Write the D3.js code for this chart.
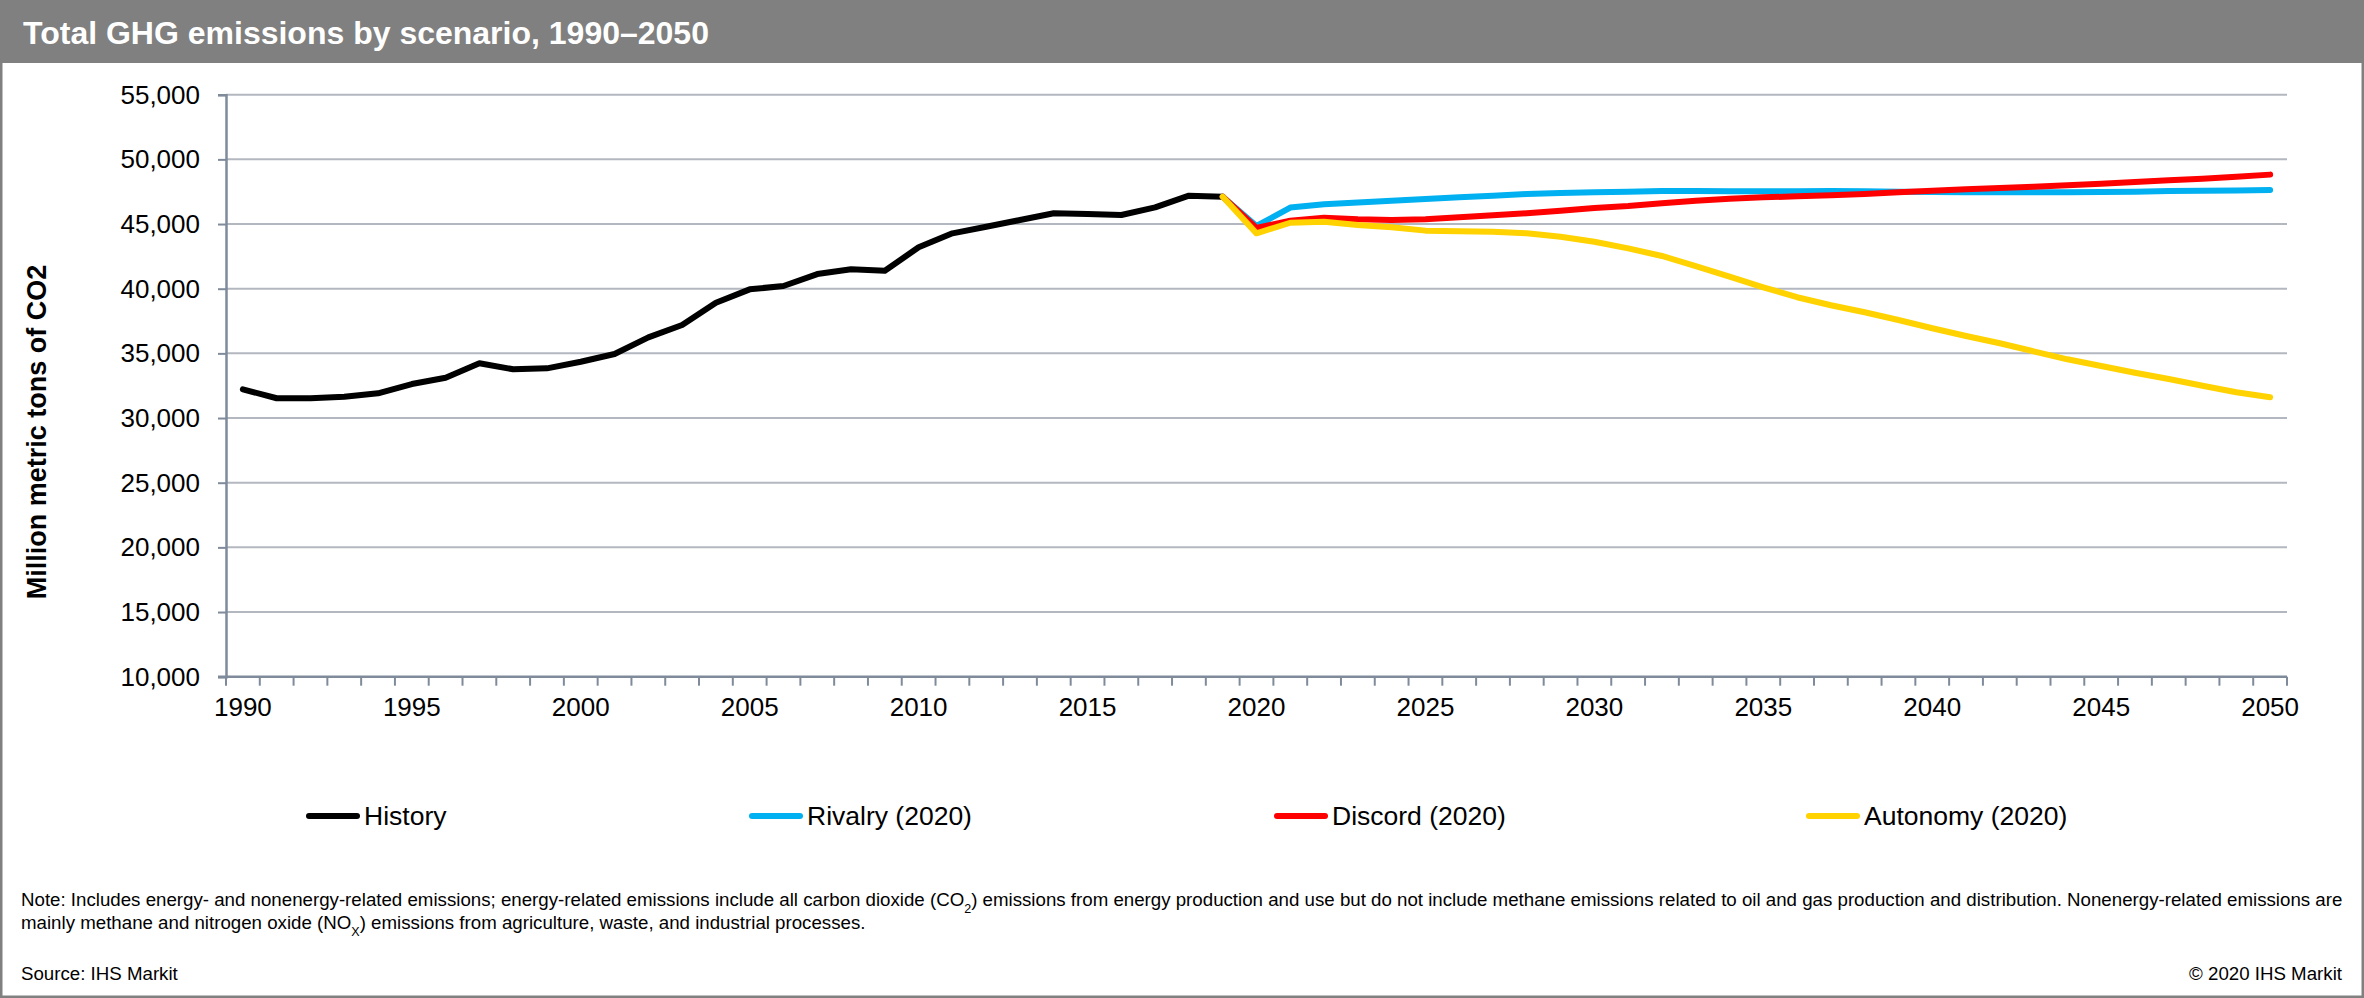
<!DOCTYPE html>
<html>
<head>
<meta charset="utf-8">
<script src="https://cdnjs.cloudflare.com/ajax/libs/d3/7.8.5/d3.min.js"></script>
<style>
  html, body { margin: 0; padding: 0; background: #fff; }
  svg { display: block; font-family: "Liberation Sans", Arial, sans-serif; }
</style>
</head>
<body>
<div id="chart"></div>
<script>
// categories
var years = d3.range(1990, 2051);
var historyStart = 1990,
    scenarioStart = 2019;

// series values, million metric tons
var historyValues = [32220, 31530, 31530, 31650, 31910, 32630, 33120, 34230, 33770, 33840,
  34350, 34950, 36240, 37190, 38920, 39950, 40210, 41130, 41500, 41390,
  43200, 44280, 44790, 45310, 45830, 45770, 45700, 46290, 47190, 47110];

var rivalry = [47110, 44850, 46270, 46530, 46660, 46800, 46935, 47065, 47190, 47320,
  47400, 47455, 47500, 47555, 47555, 47530, 47530, 47530, 47555, 47530,
  47500, 47480, 47455, 47455, 47455, 47455, 47480, 47500, 47555, 47580, 47600, 47630];

var discord = [47110, 44700, 45260, 45490, 45370, 45310, 45370, 45520, 45675, 45830,
  46030, 46240, 46390, 46600, 46800, 46960, 47065, 47140, 47220, 47320,
  47450, 47580, 47685, 47790, 47890, 47995, 48120, 48250, 48380, 48510, 48665, 48820];

var autonomy = [47110, 44280, 45100, 45185, 44925, 44750, 44490, 44440, 44410, 44280,
  44020, 43630, 43120, 42530, 41755, 40930, 40110, 39340, 38720, 38175,
  37580, 36940, 36345, 35780, 35160, 34540, 34025, 33505, 33020, 32500, 31990, 31600];

// tick labels
var yTicks = [10000, 15000, 20000, 25000, 30000, 35000, 40000, 45000, 50000, 55000];
var xLabels = [1990, 1995, 2000, 2005, 2010, 2015, 2020, 2025, 2030, 2035, 2040, 2045, 2050];

var seriesNames = ["History", "Rivalry (2020)", "Discord (2020)", "Autonomy (2020)"];
var seriesColors = ["#000000", "#00b0f0", "#ff0000", "#ffd200"];

var width = 2364,
    height = 998,
    plotLeft = 226,
    plotRight = 2287,
    plotTop = 94.7,
    plotBottom = 676.7,
    font = "'Liberation Sans', Arial, sans-serif",
    legendX = [306, 749, 1274, 1806],
    legendY = 816;

var series = [
  {name: seriesNames[0], color: seriesColors[0], start: historyStart, values: historyValues},
  {name: seriesNames[1], color: seriesColors[1], start: scenarioStart, values: rivalry},
  {name: seriesNames[2], color: seriesColors[2], start: scenarioStart, values: discord},
  {name: seriesNames[3], color: seriesColors[3], start: scenarioStart, values: autonomy}
];

var svg = d3.select("#chart").append("svg")
    .attr("width", width)
    .attr("height", height);

svg.append("rect")
    .attr("width", width)
    .attr("height", height)
    .attr("fill", "#fff");

// title bar + frame
svg.append("rect")
    .attr("x", 0).attr("y", 0)
    .attr("width", width).attr("height", 63)
    .attr("fill", "#808080");

svg.append("rect")
    .attr("x", 1.25).attr("y", 1.25)
    .attr("width", width - 2.5).attr("height", height - 2.5)
    .attr("fill", "none")
    .attr("stroke", "#808080")
    .attr("stroke-width", 2.5);

svg.append("text")
    .attr("x", 23)
    .attr("y", 44)
    .attr("fill", "#fff")
    .style("font-size", "32px")
    .style("font-weight", "bold")
    .text("Total GHG emissions by scenario, 1990\u20132050");

var x = d3.scaleBand()
    .domain(years)
    .range([plotLeft, plotRight])
    .padding(0);

var y = d3.scaleLinear()
    .domain([10000, 55000])
    .range([plotBottom, plotTop]);

function cx(year){ return x(year) + x.bandwidth() / 2; }

// gridlines
svg.append("g")
    .selectAll("line")
    .data(yTicks.slice(1))
  .enter().append("line")
    .attr("x1", plotLeft)
    .attr("x2", plotRight)
    .attr("y1", function(d){ return y(d); })
    .attr("y2", function(d){ return y(d); })
    .attr("stroke", "#b3b8c0")
    .attr("stroke-width", 2);

// y axis
var yAxis = svg.append("g")
    .attr("transform", "translate(" + plotLeft + ",0)")
    .call(d3.axisLeft(y).tickValues(yTicks).tickSize(8).tickPadding(18).tickFormat(d3.format(",")));

yAxis.select(".domain").attr("stroke", "#7f8b9b").attr("stroke-width", 2.5);
yAxis.selectAll(".tick line").attr("stroke", "#7f8b9b").attr("stroke-width", 2);
yAxis.selectAll(".tick text")
    .attr("fill", "#000")
    .style("font-family", font)
    .style("font-size", "26px");

// x axis: ticks on category boundaries, labels every 5 years
var xAxis = svg.append("g")
    .attr("transform", "translate(0," + plotBottom + ")");

xAxis.append("line")
    .attr("x1", plotLeft - 8)
    .attr("x2", plotRight)
    .attr("stroke", "#7f8b9b")
    .attr("stroke-width", 2.5);

xAxis.selectAll(".xtick")
    .data(years.concat([years[years.length - 1] + 1]))
  .enter().append("line")
    .attr("class", "xtick")
    .attr("x1", function(d, i){ return i < years.length ? x(d) : plotRight; })
    .attr("x2", function(d, i){ return i < years.length ? x(d) : plotRight; })
    .attr("y1", 0)
    .attr("y2", 9)
    .attr("stroke", "#7f8b9b")
    .attr("stroke-width", 2);

xAxis.selectAll(".xlabel")
    .data(xLabels)
  .enter().append("text")
    .attr("class", "xlabel")
    .attr("x", function(d){ return cx(d); })
    .attr("y", 39)
    .attr("text-anchor", "middle")
    .style("font-size", "26px")
    .text(function(d){ return d; });

// y axis title
svg.append("text")
    .attr("transform", "translate(46,432) rotate(-90)")
    .attr("text-anchor", "middle")
    .style("font-size", "27px")
    .style("font-weight", "bold")
    .text("Million metric tons of CO2");

// lines
var line = d3.line()
    .x(function(d){ return cx(d.year); })
    .y(function(d){ return y(d.value); });

svg.append("g")
    .selectAll("path")
    .data(series)
  .enter().append("path")
    .attr("d", function(s){
      return line(s.values.map(function(v, i){ return {year: s.start + i, value: v}; }));
    })
    .attr("fill", "none")
    .attr("stroke", function(s){ return s.color; })
    .attr("stroke-width", 6)
    .attr("stroke-linejoin", "round")
    .attr("stroke-linecap", "round");

// legend
var legend = svg.append("g")
    .selectAll("g")
    .data(series)
  .enter().append("g")
    .attr("transform", function(d, i){ return "translate(" + legendX[i] + "," + legendY + ")"; });

legend.append("line")
    .attr("x1", 3).attr("x2", 51)
    .attr("stroke", function(d){ return d.color; })
    .attr("stroke-width", 6)
    .attr("stroke-linecap", "round");

legend.append("text")
    .attr("x", 58)
    .attr("dy", "0.35em")
    .style("font-size", "26.5px")
    .text(function(d){ return d.name; });

// note + source
var note = svg.append("g").style("font-size", "18.7px");

var l1 = note.append("text").attr("x", 21).attr("y", 906);
l1.append("tspan").text("Note: Includes energy- and nonenergy-related emissions; energy-related emissions include all carbon dioxide (CO");
l1.append("tspan").attr("baseline-shift", "sub").style("font-size", "12.5px").text("2");
l1.append("tspan").text(") emissions from energy production and use but do not include methane emissions related to oil and gas production and distribution. Nonenergy-related emissions are");

var l2 = note.append("text").attr("x", 21).attr("y", 929);
l2.append("tspan").text("mainly methane and nitrogen oxide (NO");
l2.append("tspan").attr("baseline-shift", "sub").style("font-size", "12.5px").text("X");
l2.append("tspan").text(") emissions from agriculture, waste, and industrial processes.");

note.append("text")
    .attr("x", 21)
    .attr("y", 980)
    .text("Source: IHS Markit");

note.append("text")
    .attr("x", 2342)
    .attr("y", 980)
    .attr("text-anchor", "end")
    .text("\u00a9 2020 IHS Markit");
</script>
</body>
</html>
